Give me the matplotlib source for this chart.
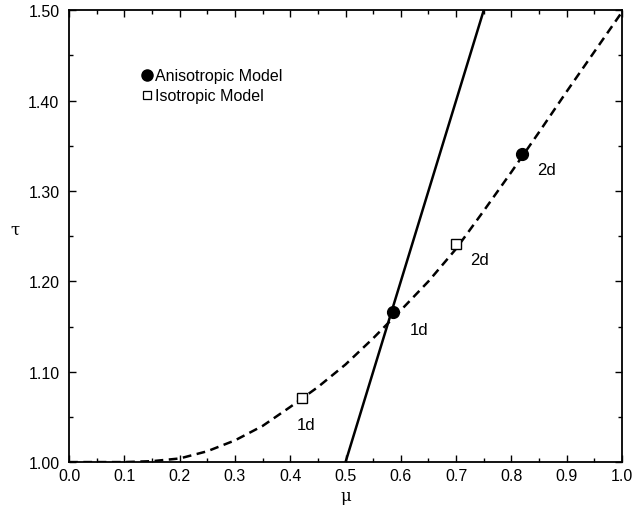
import numpy as np
import matplotlib.pyplot as plt
from matplotlib.ticker import MultipleLocator

plt.rcParams['font.family'] = ['Liberation Sans', 'DejaVu Sans']

# dashed curve
curve_mu = [0.0, 0.05, 0.10, 0.15, 0.20, 0.25, 0.30, 0.35, 0.40, 0.45, 0.50,
            0.55, 0.60, 0.65, 0.70, 0.75, 0.80, 0.85, 0.90, 0.95, 1.0]
curve_tau = [1.000, 1.000, 1.000, 1.001, 1.004, 1.012, 1.024, 1.040, 1.061, 1.083, 1.108,
             1.137, 1.168, 1.200, 1.236, 1.278, 1.321, 1.365, 1.410, 1.454, 1.498]

# solid line
line_mu = [0.50, 0.75]
line_tau = [1.00, 1.50]

aniso_mu = [0.585, 0.820]
aniso_tau = [1.166, 1.341]
iso_mu = [0.421, 0.700]
iso_tau = [1.071, 1.241]

labels = ['1d', '2d', '1d', '2d']
label_mu = [0.633, 0.864, 0.429, 0.743]
label_tau = [1.147, 1.324, 1.042, 1.224]

fig = plt.figure(figsize=(6.34, 5.10), dpi=100)
ax = fig.add_axes([0.109, 0.092, 0.872, 0.886])

ax.plot(curve_mu, curve_tau, color='black', lw=1.8, ls=(0, (3.5, 2.2)))
ax.plot(line_mu, line_tau, color='black', lw=1.8)
ax.plot(aniso_mu, aniso_tau, 'o', color='black', ms=8.5)
ax.plot(iso_mu, iso_tau, 's', mfc='white', mec='black', mew=1.0, ms=6.8)

for t, x, y in zip(labels, label_mu, label_tau):
    ax.text(x, y, t, fontsize=12, ha='center', va='center')

# legend drawn as text at data coords
ax.plot([0.14], [1.428], 'o', color='black', ms=8)
ax.plot([0.14], [1.406], 's', mfc='white', mec='black', mew=0.9, ms=6)
ax.text(0.156, 1.428, 'Anisotropic Model', fontsize=11.5, va='center')
ax.text(0.156, 1.406, 'Isotropic Model', fontsize=11.5, va='center')

ax.set_xlim(0, 1)
ax.set_ylim(1.0, 1.5)
ax.xaxis.set_major_locator(MultipleLocator(0.1))
ax.xaxis.set_minor_locator(MultipleLocator(0.05))
ax.yaxis.set_major_locator(MultipleLocator(0.1))
ax.yaxis.set_minor_locator(MultipleLocator(0.05))
ax.xaxis.set_major_formatter(plt.FormatStrFormatter('%.1f'))
ax.yaxis.set_major_formatter(plt.FormatStrFormatter('%.2f'))
ax.tick_params(which='both', direction='in', top=True, right=True, labelsize=11.5)
ax.tick_params(which='major', length=5, width=1)
ax.tick_params(which='minor', length=3, width=1)
ax.tick_params(axis='y', pad=7)
ax.tick_params(axis='x', pad=4)
for s in ax.spines.values():
    s.set_linewidth(1.3)

ax.set_xlabel('μ', fontsize=12, labelpad=3, family='DejaVu Serif')
ax.set_ylabel('τ', fontsize=12, rotation=0, family='DejaVu Serif', ha='center', va='center')
ax.yaxis.set_label_coords(-0.098, 0.515)

fig.savefig('out.png', dpi=100)
